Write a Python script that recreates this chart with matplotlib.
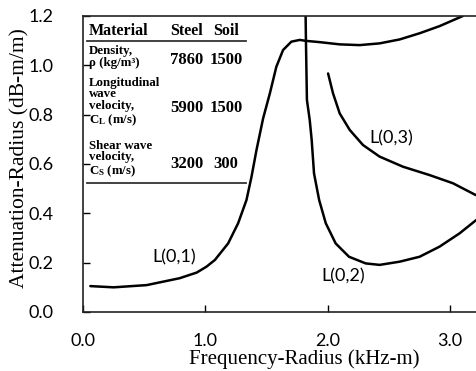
import matplotlib
matplotlib.use("Agg")
import matplotlib.pyplot as plt
from matplotlib.lines import Line2D

plt.rcParams['mathtext.fontset'] = 'custom'
plt.rcParams['mathtext.rm'] = 'Liberation Serif'
plt.rcParams['mathtext.bf'] = 'Liberation Serif:bold'

# curves (frequency-radius kHz-m, attenuation-radius dB-m/m)
l01_x = [0.06, 0.25, 0.52, 0.79, 0.93, 1.01, 1.078, 1.186, 1.268, 1.336, 1.377, 1.418,
         1.472, 1.527, 1.58, 1.635, 1.703, 1.771, 1.826, 1.935, 2.098, 2.26, 2.424,
         2.588, 2.751, 2.914, 3.104]
l01_y = [0.105, 0.100, 0.109, 0.137, 0.160, 0.184, 0.211, 0.278, 0.360, 0.454, 0.548, 0.657,
         0.785, 0.886, 0.994, 1.062, 1.096, 1.103, 1.099, 1.094, 1.085, 1.082, 1.089,
         1.105, 1.130, 1.159, 1.200]

l02_x = [1.818, 1.822, 1.83, 1.853, 1.869, 1.888, 1.93, 1.984, 2.065, 2.174, 2.31,
         2.424, 2.588, 2.751, 2.914, 3.078, 3.214]
l02_y = [1.25, 1.10, 0.86, 0.778, 0.697, 0.562, 0.454, 0.360, 0.278, 0.224, 0.197,
         0.191, 0.204, 0.224, 0.265, 0.319, 0.373]

l03_x = [2.003, 2.043, 2.098, 2.18, 2.288, 2.424, 2.615, 2.833, 3.023, 3.21]
l03_y = [0.967, 0.887, 0.805, 0.738, 0.677, 0.630, 0.589, 0.555, 0.522, 0.474]

mode_labels = ["L(0,1)", "L(0,2)", "L(0,3)"]
label_pos = [(0.744, 0.221), (2.128, 0.144), (2.52, 0.703)]

x_ticks = [0.0, 1.0, 2.0, 3.0]
y_ticks = [0.0, 0.2, 0.4, 0.6, 0.8, 1.0, 1.2]

# table
tbl_header = ["Material", "Steel", "Soil"]
tbl_props = [["Density,", "ρ (kg/m³)"],
             ["Longitudinal", "wave", "velocity,", r"$\mathbf{C_L}$ (m/s)"],
             ["Shear wave", "velocity,", r"$\mathbf{C_S}$ (m/s)"]]
tbl_steel = ["7860", "5900", "3200"]
tbl_soil = ["1500", "1500", "300"]

W, H = 477, 371
fig = plt.figure(figsize=(W / 100, H / 100), dpi=100)
ax = fig.add_axes([83 / W, 1 - 312 / H, 394 / W, 296 / H])

for xs, ys in [(l01_x, l01_y), (l02_x, l02_y), (l03_x, l03_y)]:
    ax.plot(xs, ys, color='black', lw=1.8, solid_capstyle='round', solid_joinstyle='round')

for txt, (lx, ly) in zip(mode_labels, label_pos):
    ax.text(lx, ly, txt, ha='center', va='center', fontsize=13, family='Lato')

ax.set_xlim(0, 3.22)
ax.set_ylim(0, 1.2)
ax.set_xticks(x_ticks)
ax.set_yticks(y_ticks)
ax.set_xticklabels(["%.1f" % v for v in x_ticks], family='Lato', fontsize=13)
ax.set_yticklabels(["%.1f" % v for v in y_ticks], family='Lato', fontsize=13)
ax.tick_params(axis='x', direction='in', length=5, width=1, pad=15)
ax.tick_params(axis='y', direction='in', length=5, width=1, pad=21)
ax.spines['right'].set_visible(False)
for s in ['left', 'bottom', 'top']:
    ax.spines[s].set_linewidth(1.2)
    ax.spines[s].set_color('#222222')

fig.text(20 / W, 1 - 158 / H, "Attenuation-Radius (dB-m/m)", rotation=90, ha='center',
         va='center', family='Liberation Serif', fontsize=15.5)
fig.text(304 / W, 1 - 359 / H, "Frequency-Radius (kHz-m)", ha='center', va='center',
         family='Liberation Serif', fontsize=15)


def P(px, py):
    return px / W, 1 - py / H


tfont = dict(family='Liberation Serif', fontweight='bold', va='baseline')
fig.text(*P(89, 35), tbl_header[0], ha='left', fontsize=11.5, **tfont)
fig.text(*P(187, 35), tbl_header[1], ha='center', fontsize=11.5, **tfont)
fig.text(*P(226, 35), tbl_header[2], ha='center', fontsize=11.5, **tfont)

row_baselines = [[54, 66], [86, 97, 109, 123], [149, 160, 174]]
value_baselines = [64, 112, 168]
for lines, bases in zip(tbl_props, row_baselines):
    for t, b in zip(lines, bases):
        fig.text(*P(89, b), t, ha='left', fontsize=9.3, **tfont)
for st, so, b in zip(tbl_steel, tbl_soil, value_baselines):
    fig.text(*P(187, b), st, ha='center', fontsize=12, **tfont)
    fig.text(*P(226, b), so, ha='center', fontsize=12, **tfont)

for yy in [41, 183]:
    fig.add_artist(Line2D([87 / W, 246 / W], [1 - yy / H, 1 - yy / H], color='#333333', lw=1.3))

fig.savefig("out.png", dpi=100)
